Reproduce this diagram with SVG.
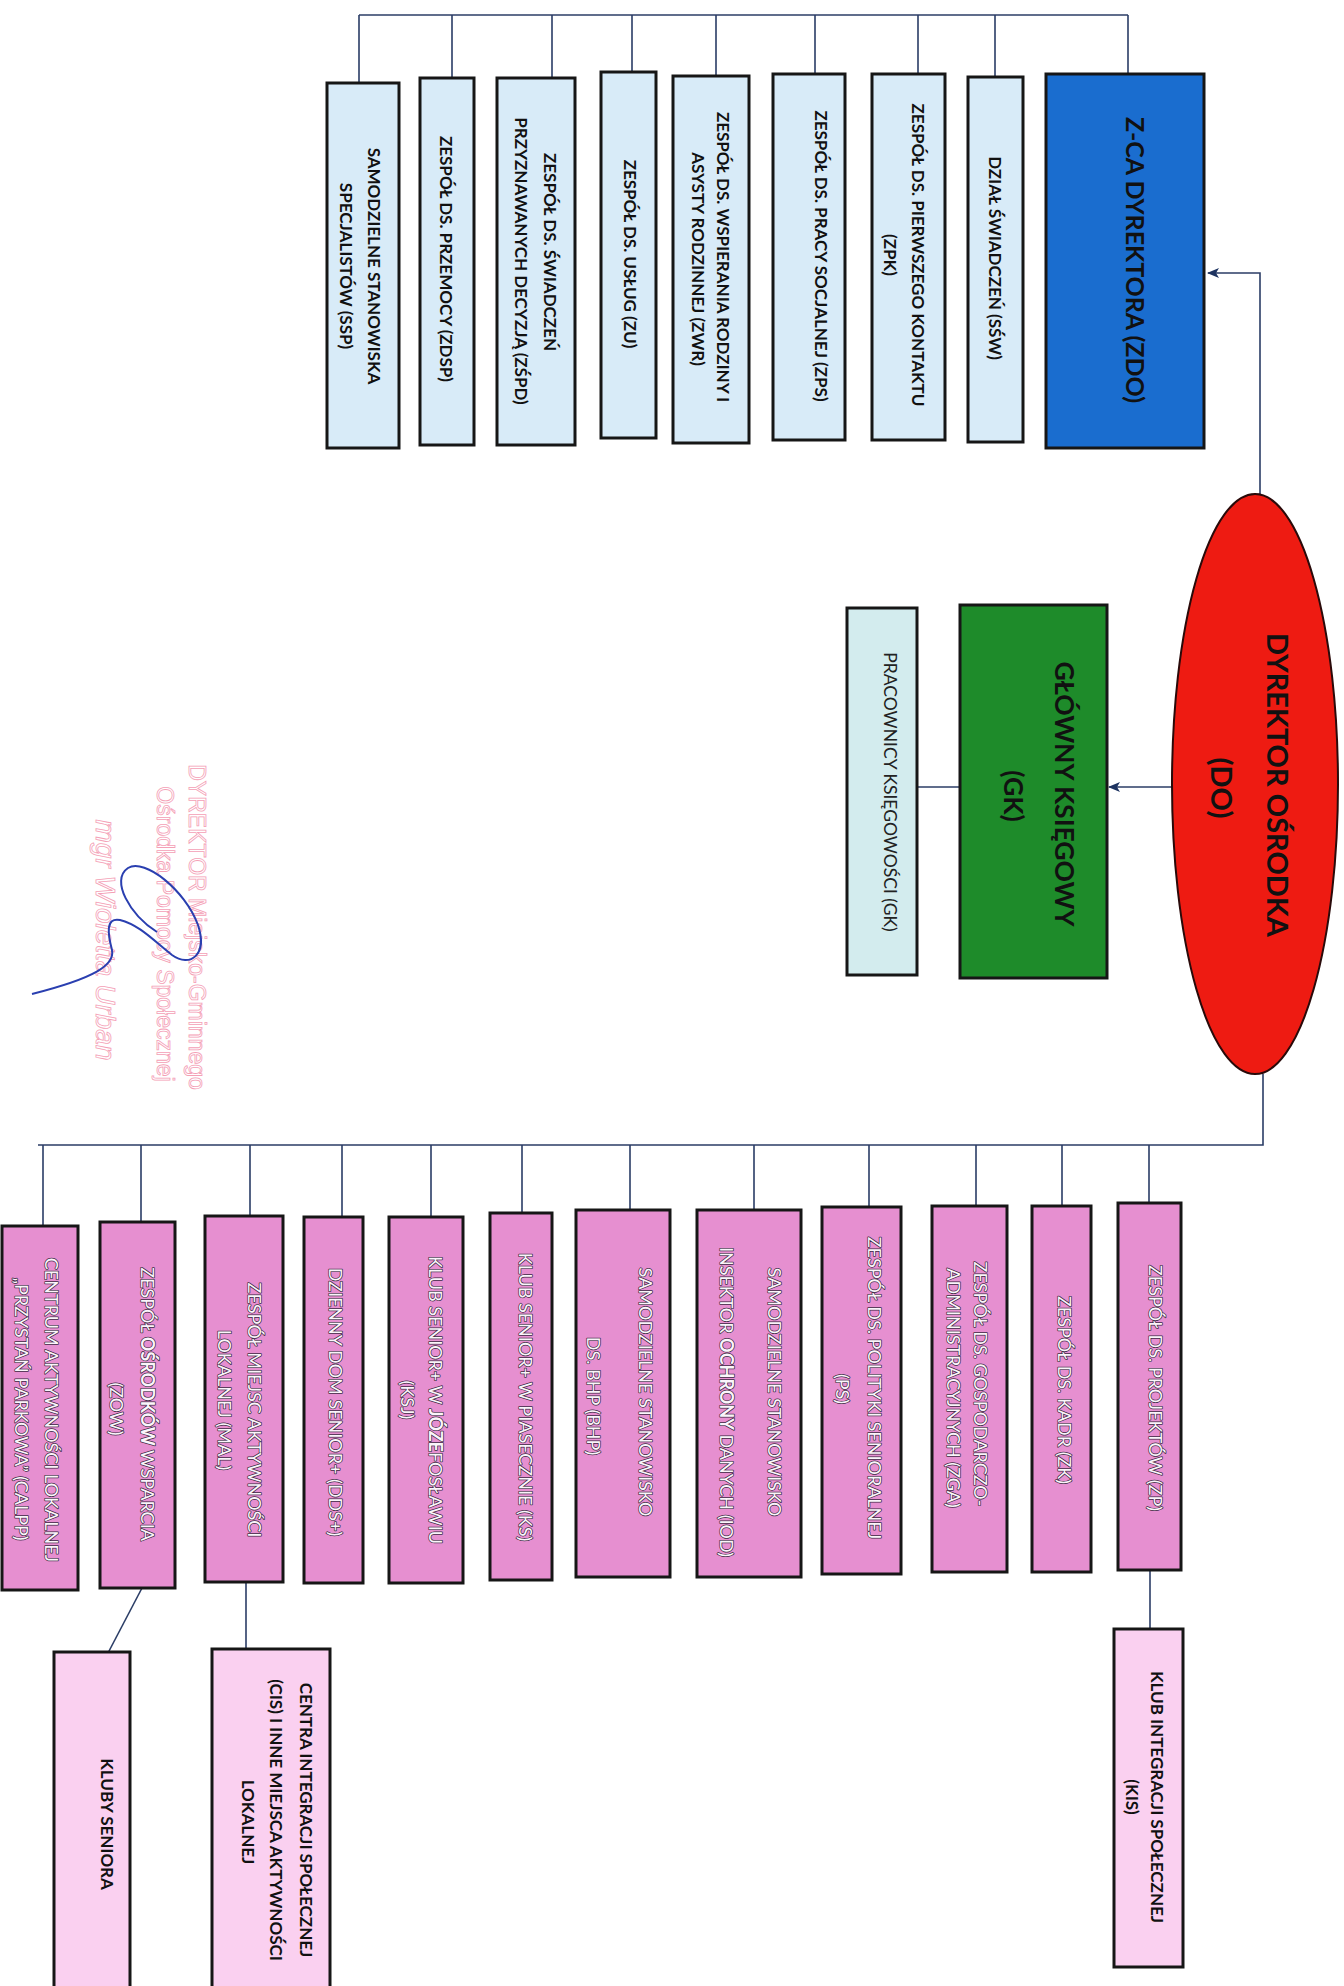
<svg xmlns="http://www.w3.org/2000/svg" width="1344" height="1986" viewBox="0 0 1344 1986">
<style>
.bx{stroke:#161616;stroke-width:3}
.lb{fill:#d8ebf8}
.pk{fill:#e68fd0}
.lp{fill:#fad0f0}
.ln{fill:none;stroke:#2b3d66;stroke-width:1.6}
text{font-family:Lato,"Open Sans","Liberation Sans",sans-serif;text-anchor:middle;dominant-baseline:central}
.t{font-size:17px;font-weight:700;fill:#111}
.w{font-size:18px;font-weight:400;fill:#fbf5fb;stroke:#3e2b44;stroke-width:1.5;paint-order:stroke;stroke-linejoin:round}
.wb{font-weight:700}
.big{font-weight:700;fill:#111}
.st{font-family:"Liberation Sans",Arial,sans-serif;fill:#fff;stroke:#f4a0b6;stroke-width:0.8}
</style>
<defs>
<marker id="ar" viewBox="0 0 12 10" refX="11" refY="5" markerWidth="12" markerHeight="10" markerUnits="userSpaceOnUse" orient="auto">
<path d="M0,0 L12,5 L0,10 L3,5 z" fill="#1d3360"/>
</marker>
</defs>
<rect width="1344" height="1986" fill="#fff"/>

<g id="connectors">
<path class="ln" d="M359,15 H1128"/>
<path class="ln" d="M359,15 V83 M452,15 V78 M552,15 V78 M632,15 V72 M716,15 V76 M815,15 V74 M918,15 V74 M995,15 V77 M1128,15 V74"/>
<path class="ln" d="M1260,494 V273 H1208" marker-end="url(#ar)"/>
<path class="ln" d="M1172,787 H1109" marker-end="url(#ar)"/>
<path class="ln" d="M960,787 H917"/>
<path class="ln" d="M1263,1074 V1145 H38"/>
<path class="ln" d="M43,1145 V1226 M141,1145 V1222 M250,1145 V1216 M342,1145 V1217 M431,1145 V1217 M522,1145 V1213 M630,1145 V1210 M754,1145 V1210 M869,1145 V1207 M976,1145 V1206 M1062,1145 V1206 M1149,1145 V1203"/>
<path class="ln" d="M1150,1570 V1629"/>
<path class="ln" d="M246,1582 V1649"/>
<path class="ln" d="M142,1588 L108,1653"/>
</g>

<g id="DO">
<ellipse cx="1255" cy="784" rx="83" ry="290" fill="#ee1b12" stroke="#2a0a0a" stroke-width="2"/>
<text class="big" font-size="29" transform="translate(1278,785) rotate(90)">DYREKTOR OŚRODKA</text>
<text class="big" font-size="29" transform="translate(1222,788) rotate(90)">(DO)</text>
</g>

<g id="ZDO">
<rect class="bx" x="1046" y="74" width="158" height="374" fill="#1a6dcf"/>
<text class="big" font-size="25" transform="translate(1136,260) rotate(90)">Z-CA DYREKTORA (ZDO)</text>
</g>
<g id="SSW">
<rect class="bx lb" x="968" y="77" width="55" height="365"/>
<text class="t" transform="translate(995,258) rotate(90)">DZIAŁ ŚWIADCZEŃ (SŚW)</text>
</g>
<g id="ZPK">
<rect class="bx lb" x="872" y="74" width="73" height="366"/>
<text class="t" transform="translate(918,255) rotate(90)">ZESPÓŁ DS. PIERWSZEGO KONTAKTU</text>
<text class="t" transform="translate(890,255) rotate(90)">(ZPK)</text>
</g>
<g id="ZPS">
<rect class="bx lb" x="773" y="74" width="72" height="366"/>
<text class="t" transform="translate(821,256) rotate(90)">ZESPÓŁ DS. PRACY SOCJALNEJ (ZPS)</text>
</g>
<g id="ZWR">
<rect class="bx lb" x="673" y="76" width="76" height="367"/>
<text class="t" transform="translate(723,257) rotate(90)">ZESPÓŁ DS. WSPIERANIA RODZINY I</text>
<text class="t" transform="translate(698,259) rotate(90)">ASYSTY RODZINNEJ (ZWR)</text>
</g>
<g id="ZU">
<rect class="bx lb" x="601" y="72" width="55" height="366"/>
<text class="t" transform="translate(630,254) rotate(90)">ZESPÓŁ DS. USŁUG (ZU)</text>
</g>
<g id="ZSPD">
<rect class="bx lb" x="497" y="78" width="78" height="367"/>
<text class="t" transform="translate(550,252) rotate(90)">ZESPÓŁ DS. ŚWIADCZEŃ</text>
<text class="t" transform="translate(521,261) rotate(90)">PRZYZNAWANYCH DECYZJĄ (ZŚPD)</text>
</g>
<g id="ZDSP">
<rect class="bx lb" x="420" y="78" width="54" height="367"/>
<text class="t" transform="translate(446,259) rotate(90)">ZESPÓŁ DS. PRZEMOCY (ZDSP)</text>
</g>
<g id="SSP">
<rect class="bx lb" x="327" y="83" width="72" height="365"/>
<text class="t" transform="translate(374,266) rotate(90)">SAMODZIELNE STANOWISKA</text>
<text class="t" transform="translate(346,266) rotate(90)">SPECJALISTÓW (SSP)</text>
</g>

<g id="GK">
<rect class="bx" x="960" y="605" width="147" height="373" fill="#1e8b2a"/>
<text class="big" font-size="26.5" transform="translate(1065,794) rotate(90)">GŁÓWNY KSIĘGOWY</text>
<text class="big" font-size="26.5" transform="translate(1014,796) rotate(90)">(GK)</text>
</g>
<g id="PKG">
<rect class="bx" x="847" y="608" width="70" height="367" fill="#d3ecee"/>
<text transform="translate(890,792) rotate(90)" font-size="17.5" fill="#222">PRACOWNICY KSIĘGOWOŚCI (GK)</text>
</g>

<g id="ZP">
<rect class="bx pk" x="1118" y="1203" width="63" height="367"/>
<text class="w" transform="translate(1156,1388) rotate(90)">ZESPÓŁ DS. PROJEKTÓW (ZP)</text>
</g>
<g id="ZK">
<rect class="bx pk" x="1032" y="1206" width="59" height="366"/>
<text class="w" transform="translate(1065,1390) rotate(90)">ZESPÓŁ DS. KADR (ZK)</text>
</g>
<g id="ZGA">
<rect class="bx pk" x="932" y="1206" width="75" height="366"/>
<text class="w" transform="translate(981,1384) rotate(90)">ZESPÓŁ DS. GOSPODARCZO-</text>
<text class="w" transform="translate(954,1388) rotate(90)">ADMINISTRACYJNYCH (ZGA)</text>
</g>
<g id="PS">
<rect class="bx pk" x="822" y="1207" width="79" height="367"/>
<text class="w" transform="translate(875,1388) rotate(90)">ZESPÓŁ DS. POLITYKI SENIORALNEJ</text>
<text class="w" transform="translate(843,1389) rotate(90)">(PS)</text>
</g>
<g id="IOD">
<rect class="bx pk" x="697" y="1210" width="104" height="367"/>
<text class="w" transform="translate(775,1392) rotate(90)">SAMODZIELNE STANOWISKO</text>
<text class="w" transform="translate(727,1402) rotate(90)">INSEKTOR <tspan class="wb">OCHRONY</tspan> DANYCH (IOD)</text>
</g>
<g id="BHP">
<rect class="bx pk" x="576" y="1210" width="94" height="367"/>
<text class="w" transform="translate(646,1392) rotate(90)">SAMODZIELNE STANOWISKO</text>
<text class="w" transform="translate(594,1396) rotate(90)">DS. BHP (BHP)</text>
</g>
<g id="KS">
<rect class="bx pk" x="490" y="1213" width="62" height="367"/>
<text class="w" transform="translate(526,1397) rotate(90)">KLUB SENIOR+ W PIASECZNIE (KS)</text>
</g>
<g id="KSJ">
<rect class="bx pk" x="389" y="1217" width="74" height="366"/>
<text class="w" transform="translate(436,1400) rotate(90)">KLUB SENIOR+ W <tspan class="wb">JÓZE</tspan>FOSŁAWIU</text>
<text class="w" transform="translate(408,1400) rotate(90)">(KSJ)</text>
</g>
<g id="DDS">
<rect class="bx pk" x="304" y="1217" width="59" height="366"/>
<text class="w" transform="translate(336,1402) rotate(90)">DZIENNY DOM SENIOR+ (DDS+)</text>
</g>
<g id="MAL">
<rect class="bx pk" x="205" y="1216" width="78" height="366"/>
<text class="w" transform="translate(255,1410) rotate(90)">ZESPÓŁ MIEJSC AKTYWNOŚCI</text>
<text class="w" transform="translate(225,1400) rotate(90)">LOKALNEJ (MAL)</text>
</g>
<g id="ZOW">
<rect class="bx pk" x="100" y="1222" width="75" height="366"/>
<text class="w" transform="translate(148,1404) rotate(90)">ZESPÓŁ <tspan class="wb">OŚRODKÓW</tspan> WSPARCIA</text>
<text class="w" transform="translate(117,1409) rotate(90)">(ZOW)</text>
</g>
<g id="CALPP">
<rect class="bx pk" x="2" y="1226" width="76" height="364"/>
<text class="w" transform="translate(52,1410) rotate(90)">CENTRUM AKTYWNOŚCI LOKALNEJ</text>
<text class="w" transform="translate(22,1409) rotate(90)">„PRZYSTAŃ PARKOWA” (CALPP)</text>
</g>

<g id="KIS">
<rect class="bx lp" x="1114" y="1629" width="69" height="338"/>
<text class="t" transform="translate(1157,1797) rotate(90)">KLUB INTEGRACJI SPOŁECZNEJ</text>
<text class="t" transform="translate(1132,1797) rotate(90)">(KIS)</text>
</g>
<g id="CIS">
<rect class="bx lp" x="212" y="1649" width="118" height="345"/>
<text class="t" transform="translate(306,1820) rotate(90)">CENTRA INTEGRACJI SPOŁECZNEJ</text>
<text class="t" transform="translate(276,1820) rotate(90)">(CIS) I INNE MIEJSCA AKTYWNOŚCI</text>
<text class="t" transform="translate(248,1822) rotate(90)">LOKALNEJ</text>
</g>
<g id="KLUBY">
<rect class="bx lp" x="54" y="1652" width="76" height="342"/>
<text class="t" transform="translate(107,1824) rotate(90)">KLUBY SENIORA</text>
</g>

<g id="stamp">
<text class="st" font-size="23" transform="translate(197,927) rotate(90)">DYREKTOR Miejsko-Gminnego</text>
<text class="st" font-size="23" transform="translate(165,934) rotate(90)">Ośrodka Pomocy Społecznej</text>
<text class="st" font-size="28" font-style="italic" font-family="Liberation Serif,serif" transform="translate(105,940) rotate(90)">mgr Wioletta Urban</text>
<path d="M157,932 C130,915 110,880 128,868 C145,858 185,890 198,925 C208,955 190,968 172,955 C155,942 140,925 120,920 C105,917 108,935 112,950 C115,965 95,978 32,994" fill="none" stroke="#2a3fb0" stroke-width="2"/>
</g>
</svg>
